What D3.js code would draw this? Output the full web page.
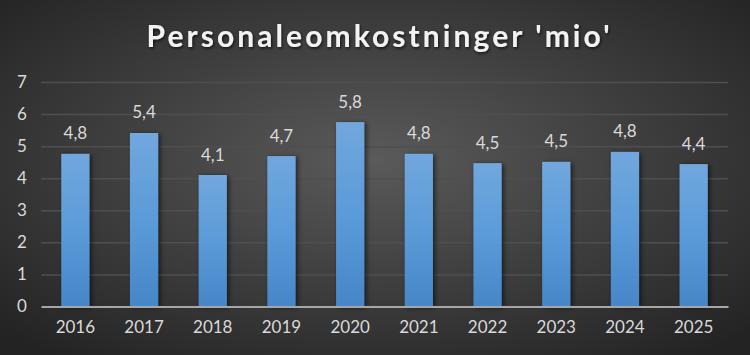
<!DOCTYPE html>
<html><head><meta charset="utf-8">
<script src="https://cdn.jsdelivr.net/npm/d3@7"></script>
<style>html,body{margin:0;padding:0;background:#262626;overflow:hidden}</style>
</head><body>
<svg id="c" width="750" height="355"></svg>
<script>
const categories = ["2016","2017","2018","2019","2020","2021","2022","2023","2024","2025"];
const values = [4.76, 5.41, 4.10, 4.69, 5.75, 4.76, 4.47, 4.51, 4.82, 4.44];
const yTicks = [0,1,2,3,4,5,6,7];
const title = "Personaleomkostninger 'mio'";

const W = 750, H = 355;
const m = {left: 41, right: 22, top: 82, bottom: 48.5};
const svg = d3.select("#c");
const defs = svg.append("defs");

const bg = defs.append("radialGradient").attr("id","bg").attr("cx","50%").attr("cy","45%").attr("r","70%");
bg.append("stop").attr("offset","0%").attr("stop-color","#5a5a5a");
bg.append("stop").attr("offset","100%").attr("stop-color","#232323");
const bar = defs.append("linearGradient").attr("id","bar").attr("x1",0).attr("y1",0).attr("x2",0).attr("y2",1);
bar.append("stop").attr("offset","0%").attr("stop-color","#71a7dd");
bar.append("stop").attr("offset","50%").attr("stop-color","#5b9bd9");
bar.append("stop").attr("offset","100%").attr("stop-color","#4686c7");
const sh = defs.append("filter").attr("id","sh").attr("x","-30%").attr("y","-10%").attr("width","170%").attr("height","130%");
sh.append("feDropShadow").attr("dx",2).attr("dy",1).attr("stdDeviation",2.5).attr("flood-color","#000").attr("flood-opacity",0.6);
const tsh = defs.append("filter").attr("id","tsh").attr("x","-10%").attr("y","-30%").attr("width","120%").attr("height","160%");
tsh.append("feDropShadow").attr("dx",1).attr("dy",1.5).attr("stdDeviation",1.5).attr("flood-color","#000").attr("flood-opacity",0.7);

svg.append("rect").attr("width",W).attr("height",H).attr("fill","url(#bg)");

const x = d3.scaleBand().domain(categories).range([m.left, W - m.right]).paddingInner(0.59).paddingOuter(0.295);
const y = d3.scaleLinear().domain([0,7]).range([H - m.bottom, m.top]);

// gridlines
const gy = svg.append("g").attr("transform",`translate(${m.left},0)`)
  .call(d3.axisLeft(y).tickValues(yTicks).tickSize(-(W - m.left - m.right)).tickFormat(d => d).tickPadding(17));
gy.select(".domain").remove();
gy.selectAll(".tick line").attr("stroke","#4f4f4f").attr("stroke-width",1.5).filter(d => d === 0).remove();
gy.selectAll(".tick text").attr("fill","#d9d9d9").attr("font-family","Lato, 'Open Sans', sans-serif").attr("font-size",17).attr("text-anchor","middle").attr("dx",-2);

// bars
svg.append("g").selectAll("rect").data(values).join("rect")
  .attr("x",(d,i)=>x(categories[i])).attr("width",x.bandwidth())
  .attr("y",d=>y(d)).attr("height",d=>y(0)-y(d))
  .attr("fill","url(#bar)").attr("filter","url(#sh)");

// x axis
const gx = svg.append("g").attr("transform",`translate(0,${y(0)})`)
  .call(d3.axisBottom(x).tickSize(0).tickPadding(14));
gx.select(".domain").attr("stroke","#a6a6a6").attr("stroke-width",2);
gx.selectAll(".tick text").attr("fill","#d9d9d9").attr("font-family","Lato, 'Open Sans', sans-serif").attr("font-size",17);

// data labels
svg.append("g").selectAll("text").data(values).join("text")
  .attr("x",(d,i)=>x(categories[i]) + x.bandwidth()/2)
  .attr("y",d=>y(d) - 14.5)
  .attr("text-anchor","middle")
  .attr("fill","#d9d9d9").attr("font-family","Lato, 'Open Sans', sans-serif").attr("font-size",17)
  .text(d => d3.format(".1f")(d).replace(".", ","));

// title
const t = svg.append("text").attr("x",W/2 + 3).attr("y",47).attr("text-anchor","middle")
  .attr("fill","#f2f2f2").attr("font-family","Lato, 'Open Sans', sans-serif").attr("font-weight","bold")
  .attr("font-size",30).attr("filter","url(#tsh)").text(title);
const tw = t.node().getComputedTextLength();
const ls = Math.max(0, (463 - tw) / (title.length - 1));
t.attr("letter-spacing", ls).attr("x", W/2 + 3 + ls/2);
</script>
</body></html>
